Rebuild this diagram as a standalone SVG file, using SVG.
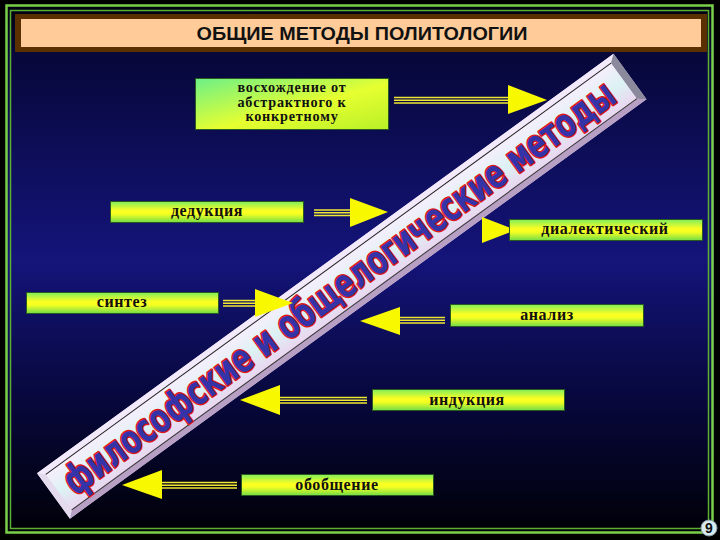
<svg xmlns="http://www.w3.org/2000/svg" width="720" height="540" viewBox="0 0 720 540">
<defs>
<linearGradient id="bg" x1="0" y1="0" x2="0" y2="1">
<stop offset="0" stop-color="#000008"/>
<stop offset="0.1" stop-color="#07073a"/>
<stop offset="0.48" stop-color="#14147a"/>
<stop offset="0.75" stop-color="#07073a"/>
<stop offset="1" stop-color="#000005"/>
</linearGradient>
<linearGradient id="boxg" x1="0" y1="0" x2="0" y2="1">
<stop offset="0" stop-color="#80ee5a"/>
<stop offset="0.45" stop-color="#ffff22"/>
<stop offset="0.6" stop-color="#f4ff22"/>
<stop offset="1" stop-color="#70dc48"/>
</linearGradient>
<linearGradient id="bigg" x1="0" y1="0" x2="1" y2="1">
<stop offset="0" stop-color="#6cf088"/>
<stop offset="0.55" stop-color="#e6ff30"/>
<stop offset="1" stop-color="#b8f028"/>
</linearGradient>
<linearGradient id="face" x1="0" y1="0" x2="0" y2="1">
<stop offset="0" stop-color="#f6eefc"/>
<stop offset="0.5" stop-color="#dcf2f4"/>
<stop offset="1" stop-color="#ead6f0"/>
</linearGradient>
<style>
.box{stroke:#2a5a20;stroke-width:1}
.lbl{font-family:"Liberation Serif","Times New Roman",serif;font-weight:bold;font-size:16px;fill:#111;text-anchor:middle;letter-spacing:0.6px}
.lbl3{font-size:14.2px;letter-spacing:0.8px}
.shaft{stroke:#f0e830;stroke-width:1.6}
.head{fill:#f8f800}
.band-text{font-family:"DejaVu Sans Condensed","DejaVu Sans","Liberation Sans",sans-serif;font-weight:bold;font-size:40px;fill:#3434a8;stroke:#e01818;stroke-width:3;paint-order:stroke;stroke-linejoin:round}
</style>
</defs>
<rect x="0" y="0" width="720" height="540" fill="url(#bg)"/>
<rect x="0" y="0" width="720" height="5" fill="#000"/>
<rect x="0" y="533" width="720" height="7" fill="#000"/>
<rect x="0" y="0" width="6" height="540" fill="#000"/>
<rect x="714" y="0" width="6" height="540" fill="#000"/>
<g id="frame" fill="none">
<rect x="6.5" y="5.5" width="706" height="527" stroke="#7ad04a" stroke-width="2.5"/>
<rect x="10.5" y="10.5" width="698" height="518" stroke="#5cb030" stroke-width="1.5"/>
</g>
<g id="title">
<rect x="15" y="14" width="692" height="38" fill="#5a3000"/>
<rect x="21" y="19" width="680" height="28" fill="#ffcc99"/>
<text x="362" y="40" font-family="'Liberation Sans',Arial,sans-serif" font-weight="bold" font-size="19" fill="#111" text-anchor="middle" textLength="331" lengthAdjust="spacingAndGlyphs">ОБЩИЕ МЕТОДЫ ПОЛИТОЛОГИИ</text>
</g>
<g id="band" transform="translate(341.75,286.25) rotate(-36.04)">
<rect x="-356.5" y="-28" width="713" height="56" fill="#d8c8e8"/>
<polygon points="-356.5,-28 356.5,-28 349,-22 -350,-22" fill="#f2eafa"/>
<polygon points="-356.5,28 356.5,28 349,22 -350,22" fill="#b8a0c4"/>
<polygon points="356.5,-28 356.5,28 349,22 349,-22" fill="#8a8a9c"/>
<polygon points="-356.5,-28 -356.5,28 -350,22 -350,-22" fill="#e4dcee"/>
<rect x="-350" y="-22" width="699" height="44" fill="url(#face)"/>
<line x1="-350" y1="-22" x2="349" y2="-22" stroke="#222" stroke-width="1"/>
<line x1="-350" y1="22" x2="349" y2="22" stroke="#333" stroke-width="1"/>
<text class="band-text" x="-3" y="13" text-anchor="middle" textLength="672" lengthAdjust="spacingAndGlyphs">философские и общелогические методы</text>
</g>
<g id="n-voskhozhdenie">
<rect class="box" x="195.5" y="78.5" width="193" height="51" fill="url(#bigg)"/>
<text class="lbl lbl3" x="292" y="92">восхождение от</text>
<text class="lbl lbl3" x="292" y="106.5">абстрактного к</text>
<text class="lbl lbl3" x="292" y="121">конкретному</text>
</g>
<g id="n-dedukciya">
<rect class="box" x="110.5" y="201.5" width="193" height="21" fill="url(#boxg)"/>
<text class="lbl" x="207" y="216">дедукция</text>
</g>
<g id="connectors">
<g id="c-voskh">
<line class="shaft" x1="394" y1="97.5" x2="509" y2="97.5"/>
<line class="shaft" x1="394" y1="100.3" x2="509" y2="100.3"/>
<line class="shaft" x1="394" y1="103" x2="509" y2="103"/>
<polygon class="head" points="508,85 508,114 547,100"/>
</g>
<g id="c-ded">
<line class="shaft" x1="314" y1="210" x2="351" y2="210"/>
<line class="shaft" x1="314" y1="212.8" x2="351" y2="212.8"/>
<line class="shaft" x1="314" y1="215.5" x2="351" y2="215.5"/>
<polygon class="head" points="350,198 350,227 388,212"/>
</g>
<g id="c-dial">
<polygon class="head" points="482,217 482,243 516,230"/>
</g>
<g id="c-sint">
<line class="shaft" x1="223" y1="300.5" x2="256" y2="300.5"/>
<line class="shaft" x1="223" y1="303.3" x2="256" y2="303.3"/>
<line class="shaft" x1="223" y1="306" x2="256" y2="306"/>
<polygon class="head" points="255,289 255,317 293,303"/>
</g>
<g id="c-anal">
<line class="shaft" x1="399" y1="317.5" x2="445" y2="317.5"/>
<line class="shaft" x1="399" y1="320.3" x2="445" y2="320.3"/>
<line class="shaft" x1="399" y1="323" x2="445" y2="323"/>
<polygon class="head" points="400,307 400,335 360,321"/>
</g>
<g id="c-ind">
<line class="shaft" x1="279" y1="397.5" x2="367" y2="397.5"/>
<line class="shaft" x1="279" y1="400.3" x2="367" y2="400.3"/>
<line class="shaft" x1="279" y1="403" x2="367" y2="403"/>
<polygon class="head" points="280,385 280,415 240,400"/>
</g>
<g id="c-obob">
<line class="shaft" x1="161" y1="482.5" x2="237" y2="482.5"/>
<line class="shaft" x1="161" y1="485.3" x2="237" y2="485.3"/>
<line class="shaft" x1="161" y1="488" x2="237" y2="488"/>
<polygon class="head" points="162,470 162,499 122,485"/>
</g>
</g>
<g id="n-dialekticheskiy">
<rect class="box" x="509.5" y="219.5" width="193" height="21" fill="url(#boxg)"/>
<text class="lbl" x="605" y="234">диалектический</text>
</g>
<g id="n-sintez">
<rect class="box" x="26.5" y="292.5" width="192" height="21" fill="url(#boxg)"/>
<text class="lbl" x="122" y="307">синтез</text>
</g>
<g id="n-analiz">
<rect class="box" x="450.5" y="304.5" width="193" height="22" fill="url(#boxg)"/>
<text class="lbl" x="547" y="320">анализ</text>
</g>
<g id="n-indukciya">
<rect class="box" x="372.5" y="389.5" width="192" height="21" fill="url(#boxg)"/>
<text class="lbl" x="467" y="405">индукция</text>
</g>
<g id="n-obobshchenie">
<rect class="box" x="241.5" y="474.5" width="192" height="21" fill="url(#boxg)"/>
<text class="lbl" x="337" y="490">обобщение</text>
</g>
<g id="page-num">
<circle cx="709" cy="528" r="8" fill="#d6ecf0" stroke="#8899a0" stroke-width="1"/>
<text x="709" y="533" font-family="'Liberation Sans',Arial,sans-serif" font-weight="bold" font-size="14" fill="#111" text-anchor="middle">9</text>
</g>
</svg>
